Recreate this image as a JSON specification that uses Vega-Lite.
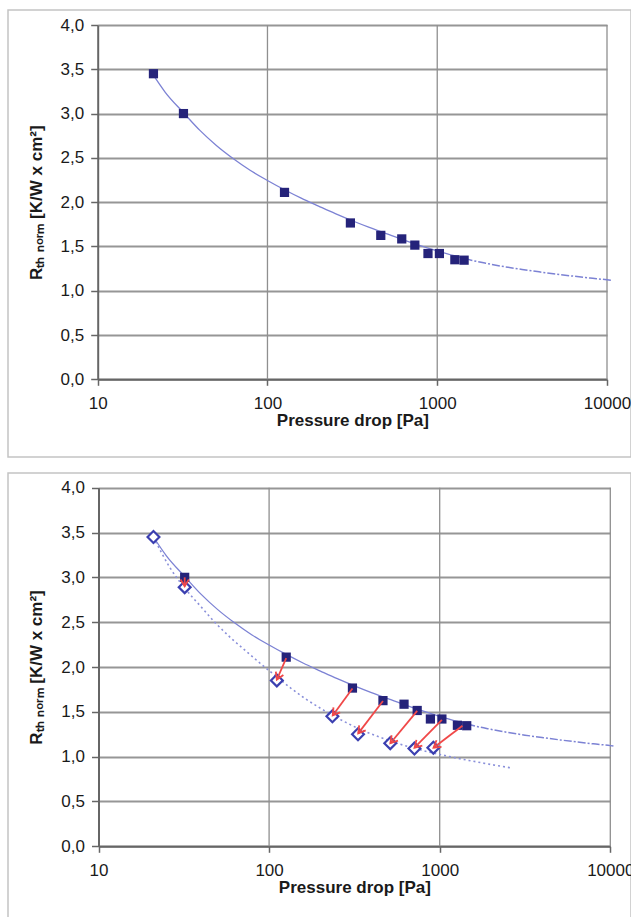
{
  "$schema": "https://vega.github.io/schema/vega-lite/v6.json",
  "padding": {"left": 7, "top": 9, "right": 0, "bottom": 0},
  "spacing": 14,
  "config": {
    "font": "Liberation Sans",
    "view": {"stroke": "#c4c4c4", "strokeWidth": 1.5},
    "axisX": {
      "labelFlush": false, "grid": false,
      "domainColor": "#666666", "domainWidth": 2, "tickColor": "#666666", "tickWidth": 1.5, "tickSize": 6,
      "labelFontSize": 17, "labelColor": "#1a1a1a", "labelPadding": 10,
      "titleFontSize": 17, "titleFontWeight": "bold", "titleColor": "#1a1a1a", "titlePadding": 1
    },
    "axisY": {
      "labelFlush": false,
      "grid": true, "gridColor": "#969696", "gridWidth": 2,
      "domainColor": "#666666", "domainWidth": 2, "tickColor": "#666666", "tickWidth": 1.5, "tickSize": 7,
      "labelFontSize": 17, "labelColor": "#1a1a1a", "labelPadding": 7,
      "titleFontSize": 17, "titleFontWeight": "bold", "titleColor": "#1a1a1a", "titlePadding": 15
    }
  },
  "datasets": {
    "vgrid": [{"p": 100}, {"p": 1000}, {"p": 10000}],
    "squares": [
      {"p": 21.3, "r": 3.45}, {"p": 32, "r": 3.0}, {"p": 126, "r": 2.11}, {"p": 308, "r": 1.765},
      {"p": 465, "r": 1.625}, {"p": 618, "r": 1.585}, {"p": 738, "r": 1.515}, {"p": 882, "r": 1.42},
      {"p": 1030, "r": 1.42}, {"p": 1270, "r": 1.35}, {"p": 1440, "r": 1.345}
    ],
    "diamonds": [
      {"p": 21, "r": 3.45}, {"p": 32, "r": 2.89}, {"p": 111, "r": 1.85}, {"p": 235, "r": 1.45},
      {"p": 332, "r": 1.25}, {"p": 513, "r": 1.15}, {"p": 711, "r": 1.09}, {"p": 918, "r": 1.1}
    ],
    "arrows": [
      {"p0": 32, "r0": 3.0, "p": 32, "r": 2.9},
      {"p0": 126, "r0": 2.1, "p": 111, "r": 1.86},
      {"p0": 308, "r0": 1.76, "p": 236, "r": 1.46},
      {"p0": 465, "r0": 1.62, "p": 333, "r": 1.26},
      {"p0": 738, "r0": 1.51, "p": 514, "r": 1.15},
      {"p0": 1030, "r0": 1.41, "p": 712, "r": 1.1},
      {"p0": 1360, "r0": 1.345, "p": 920, "r": 1.1}
    ],
    "upperFit": [
      {"p": 21, "r": 3.45}, {"p": 25, "r": 3.24}, {"p": 32, "r": 3.01}, {"p": 40, "r": 2.81},
      {"p": 50, "r": 2.64}, {"p": 63, "r": 2.49}, {"p": 79, "r": 2.36}, {"p": 100, "r": 2.245},
      {"p": 126, "r": 2.14}, {"p": 158, "r": 2.045}, {"p": 200, "r": 1.955}, {"p": 251, "r": 1.87},
      {"p": 316, "r": 1.79}, {"p": 398, "r": 1.715}, {"p": 501, "r": 1.645}, {"p": 631, "r": 1.575},
      {"p": 794, "r": 1.51}, {"p": 1000, "r": 1.45}, {"p": 1259, "r": 1.395}, {"p": 1450, "r": 1.365}
    ],
    "upperExt": [
      {"p": 1450, "r": 1.365}, {"p": 1585, "r": 1.345}, {"p": 1995, "r": 1.305}, {"p": 2512, "r": 1.27},
      {"p": 3162, "r": 1.24}, {"p": 3981, "r": 1.213}, {"p": 5012, "r": 1.188}, {"p": 6310, "r": 1.165},
      {"p": 7943, "r": 1.143}, {"p": 10000, "r": 1.123}, {"p": 10700, "r": 1.115}
    ],
    "lowerFit": [
      {"p": 21, "r": 3.45}, {"p": 26, "r": 3.12}, {"p": 32, "r": 2.88}, {"p": 40, "r": 2.67},
      {"p": 48, "r": 2.5}, {"p": 60, "r": 2.32}, {"p": 75, "r": 2.16}, {"p": 90, "r": 2.03},
      {"p": 111, "r": 1.89}, {"p": 135, "r": 1.76}, {"p": 162, "r": 1.65}, {"p": 200, "r": 1.54},
      {"p": 235, "r": 1.46}, {"p": 280, "r": 1.385}, {"p": 332, "r": 1.315}, {"p": 420, "r": 1.235},
      {"p": 513, "r": 1.175}, {"p": 620, "r": 1.125}, {"p": 711, "r": 1.095}, {"p": 850, "r": 1.055},
      {"p": 1000, "r": 1.025}, {"p": 1250, "r": 0.985}, {"p": 1530, "r": 0.953}, {"p": 2000, "r": 0.912},
      {"p": 2650, "r": 0.873}
    ]
  },
  "vconcat": [
    {
      "width": 623,
      "height": 447,
      "layer": [
        {
          "data": {"name": "vgrid"},
          "mark": {"type": "rule", "color": "#8f8f8f", "strokeWidth": 1.3},
          "encoding": {
            "x": {"field": "p", "type": "quantitative"},
            "y": {"datum": 0, "type": "quantitative"},
            "y2": {"datum": 4}
          }
        },
        {
          "data": {"name": "upperFit"},
          "mark": {"type": "line", "color": "#7c82d4", "strokeWidth": 1.3, "interpolate": "monotone"},
          "encoding": {
            "x": {"field": "p", "type": "quantitative",
                  "scale": {"type": "log", "domain": [10, 10000], "range": [89.7, 599], "nice": false},
                  "axis": {"title": "Pressure drop [Pa]", "offset": -77.7, "values": [10, 100, 1000, 10000], "format": "d"}},
            "y": {"field": "r", "type": "quantitative",
                  "scale": {"domain": [0, 4], "range": [369.3, 15], "nice": false, "zero": false},
                  "axis": {"title": "Rₜₕ ₙₒᵣₘ [K/W x cm²]", "offset": -89.7,
                           "values": [0, 0.5, 1, 1.5, 2, 2.5, 3, 3.5, 4],
                           "labelExpr": "replace(format(datum.value, '.1f'), '.', ',')"}}
          }
        },
        {
          "data": {"name": "upperExt"},
          "mark": {"type": "line", "color": "#7c82d4", "strokeWidth": 1.5, "strokeDash": [8, 2, 2, 2], "interpolate": "monotone"},
          "encoding": {
            "x": {"field": "p", "type": "quantitative"},
            "y": {"field": "r", "type": "quantitative"}
          }
        },
        {
          "data": {"name": "squares"},
          "mark": {"type": "point", "shape": "square", "filled": true, "color": "#25237a", "size": 85, "opacity": 1},
          "encoding": {
            "x": {"field": "p", "type": "quantitative"},
            "y": {"field": "r", "type": "quantitative"}
          }
        }
      ]
    },
    {
      "width": 623,
      "height": 445,
      "layer": [
        {
          "data": {"name": "vgrid"},
          "mark": {"type": "rule", "color": "#8f8f8f", "strokeWidth": 1.3},
          "encoding": {
            "x": {"field": "p", "type": "quantitative"},
            "y": {"datum": 0, "type": "quantitative"},
            "y2": {"datum": 4}
          }
        },
        {
          "data": {"name": "upperFit"},
          "mark": {"type": "line", "color": "#7c82d4", "strokeWidth": 1.3, "interpolate": "monotone"},
          "encoding": {
            "x": {"field": "p", "type": "quantitative",
                  "scale": {"type": "log", "domain": [10, 10000], "range": [90.5, 602.3], "nice": false},
                  "axis": {"title": "Pressure drop [Pa]", "offset": -71.7, "values": [10, 100, 1000, 10000], "format": "d"}},
            "y": {"field": "r", "type": "quantitative",
                  "scale": {"domain": [0, 4], "range": [373.3, 14.7], "nice": false, "zero": false},
                  "axis": {"title": "Rₜₕ ₙₒᵣₘ [K/W x cm²]", "offset": -90.5,
                           "values": [0, 0.5, 1, 1.5, 2, 2.5, 3, 3.5, 4],
                           "labelExpr": "replace(format(datum.value, '.1f'), '.', ',')"}}
          }
        },
        {
          "data": {"name": "upperExt"},
          "mark": {"type": "line", "color": "#7c82d4", "strokeWidth": 1.5, "strokeDash": [8, 2, 2, 2], "interpolate": "monotone"},
          "encoding": {
            "x": {"field": "p", "type": "quantitative"},
            "y": {"field": "r", "type": "quantitative"}
          }
        },
        {
          "data": {"name": "lowerFit"},
          "mark": {"type": "line", "color": "#8a90da", "strokeWidth": 1.6, "strokeDash": [2, 3], "interpolate": "monotone"},
          "encoding": {
            "x": {"field": "p", "type": "quantitative"},
            "y": {"field": "r", "type": "quantitative"}
          }
        },
        {
          "data": {"name": "diamonds"},
          "mark": {"type": "point", "shape": "diamond", "filled": true, "fill": "#ffffff", "stroke": "#3b3fb0", "strokeWidth": 2.2, "size": 140, "opacity": 1},
          "encoding": {
            "x": {"field": "p", "type": "quantitative"},
            "y": {"field": "r", "type": "quantitative"}
          }
        },
        {
          "data": {"name": "squares"},
          "transform": [{"filter": "datum.p > 25"}],
          "mark": {"type": "point", "shape": "square", "filled": true, "color": "#25237a", "size": 85, "opacity": 1},
          "encoding": {
            "x": {"field": "p", "type": "quantitative"},
            "y": {"field": "r", "type": "quantitative"}
          }
        },
        {
          "data": {"name": "arrows"},
          "mark": {"type": "rule", "color": "#f04848", "strokeWidth": 1.8},
          "encoding": {
            "x": {"field": "p0", "type": "quantitative"},
            "y": {"field": "r0", "type": "quantitative"},
            "x2": {"field": "p"},
            "y2": {"field": "r"}
          }
        },
        {
          "data": {"name": "arrows"},
          "transform": [
            {"calculate": "atan2((log(datum.p / datum.p0) / LN10) * 171, (datum.r - datum.r0) * 89.65) * 180 / PI", "as": "ang"}
          ],
          "mark": {"type": "point", "shape": "M -0.6 1 L 0 0 L 0.6 1", "filled": false, "stroke": "#f04848", "strokeWidth": 1.8, "size": 190, "opacity": 1},
          "encoding": {
            "x": {"field": "p", "type": "quantitative"},
            "y": {"field": "r", "type": "quantitative"},
            "angle": {"field": "ang", "type": "quantitative", "scale": null}
          }
        }
      ]
    }
  ]
}
